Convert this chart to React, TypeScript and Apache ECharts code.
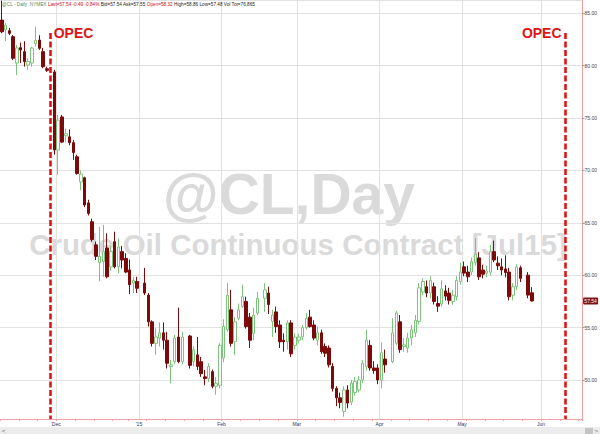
import React, { useEffect, useRef } from 'react';
import * as echarts from 'echarts';

// ---- categories: weekday slots (the chart keeps empty slots for most holidays) ----
const START_DATE = '2014-11-10';
const END_DATE = '2015-06-15';
const NO_SLOT = ['2014-12-25'];

function weekdays(start: string, end: string, skip: string[]): string[] {
  const out: string[] = [];
  const d = new Date(start + 'T00:00:00Z');
  const e = new Date(end + 'T00:00:00Z');
  while (d <= e) {
    const wd = d.getUTCDay();
    const s = d.toISOString().slice(0, 10);
    if (wd !== 0 && wd !== 6 && skip.indexOf(s) < 0) out.push(s);
    d.setUTCDate(d.getUTCDate() + 1);
  }
  return out;
}
const categories = weekdays(START_DATE, END_DATE, NO_SLOT);

const MONTH_LABELS: Record<string, string> = {
  '12': 'Dec', '01': "'15", '02': 'Feb', '03': 'Mar', '04': 'Apr', '05': 'May', '06': 'Jun',
};

// ---- OHLC rows: [open, close, low, high]; null = holiday slot ----
type Row = number[] | null;
const nov: Row[] = [
  [84.35, 83.23, 83.1, 86.2],
  [83.4, 83.87, 82.35, 84.07],
  [83.33, 83.08, 82.92, 83.59],
  [82.76, 80.7, 80.53, 82.92],
  [80.25, 81.68, 79.1, 81.97],
  [81.71, 81.49, 80.25, 82.2],
  [81.33, 80.37, 79.9, 82.33],
  [80.06, 80.38, 79.6, 80.7],
  [80.25, 81.68, 79.9, 81.8],
  [82.1, 82.4, 81.8, 83.7],
  [82.44, 81.65, 81.5, 82.9],
  [81.33, 79.9, 79.75, 81.7],
  [79.7, 79.55, 79.4, 79.9],
  null,
  [79.4, 71.95, 71.5, 79.6],
];
const dec: Row[] = [
  [71.95, 74.8, 69.6, 75.3],
  [75.1, 72.7, 72.6, 75.3],
  [73.3, 73.5, 72.7, 74.0],
  [73.2, 72.65, 72.4, 73.9],
  [72.65, 71.7, 71.0, 72.9],
  [71.3, 69.7, 69.6, 71.5],
  [68.9, 69.65, 68.1, 70.0],
  [69.3, 66.7, 66.5, 69.4],
  [66.9, 65.9, 65.7, 67.2],
  [65.1, 63.4, 63.2, 65.4],
  [62.9, 61.8, 61.45, 63.2],
  [61.2, 61.8, 59.4, 64.6],
  [61.3, 62.25, 59.85, 64.8],
  [62.6, 59.85, 59.7, 64.0],
  [60.8, 62.25, 60.4, 62.8],
  [63.2, 60.8, 60.65, 64.15],
  [60.8, 62.7, 60.2, 63.5],
  [62.25, 61.45, 60.65, 62.8],
  [61.6, 60.3, 60.2, 62.1],
  [60.5, 59.1, 58.2, 61.5],
  [59.25, 59.5, 58.3, 59.85],
  [59.4, 58.75, 58.3, 59.85],
];
const jan: Row[] = [
  null,
  [59.25, 58.3, 58.1, 60.7],
  [58.1, 55.55, 55.1, 58.3],
  [55.55, 53.5, 53.2, 55.7],
  [53.5, 54.1, 52.4, 54.95],
  [54.0, 54.5, 53.2, 55.5],
  [54.5, 53.8, 52.9, 55.5],
  [53.8, 51.6, 51.1, 54.6],
  [51.3, 51.45, 49.7, 51.9],
  [51.75, 54.0, 51.5, 54.3],
  [54.1, 51.75, 51.6, 56.9],
  [51.75, 54.1, 51.5, 54.6],
  null,
  [54.2, 51.4, 51.1, 54.3],
  [51.75, 52.9, 51.3, 53.2],
  [52.4, 51.3, 50.95, 54.1],
  [51.75, 50.6, 50.3, 52.2],
  [50.3, 50.15, 49.5, 50.95],
  [50.15, 51.3, 49.8, 51.6],
  [50.8, 49.4, 49.2, 51.0],
  [49.4, 49.7, 48.6, 50.3],
  [49.5, 53.3, 49.2, 53.5],
];
const feb: Row[] = [
  [52.1, 55.1, 51.7, 55.8],
  [54.8, 58.1, 54.6, 59.25],
  [56.7, 53.5, 53.2, 58.6],
  [53.65, 55.55, 52.4, 56.0],
  [55.9, 56.7, 55.7, 57.3],
  [57.0, 57.95, 56.9, 59.1],
  [57.5, 55.1, 54.9, 57.95],
  [56.0, 53.8, 53.05, 56.4],
  [54.45, 56.2, 53.8, 56.9],
  [56.4, 57.8, 56.2, 58.4],
  null,
  [57.8, 58.6, 56.5, 59.25],
  [58.3, 57.2, 56.3, 58.9],
  [55.6, 56.2, 54.1, 56.7],
  [56.5, 55.1, 54.5, 57.0],
  [55.25, 53.65, 53.05, 55.7],
  [53.8, 53.65, 52.7, 54.45],
  [53.65, 55.45, 52.9, 55.7],
  [55.45, 52.5, 52.2, 55.7],
  [53.3, 54.1, 52.9, 54.45],
];
const mar: Row[] = [
  [53.8, 54.1, 53.5, 54.4],
  [54.1, 55.0, 53.8, 55.25],
  [55.0, 55.9, 54.8, 56.4],
  [56.0, 55.1, 55.0, 56.7],
  [55.25, 54.0, 53.8, 55.7],
  [53.8, 54.5, 53.3, 55.1],
  [54.5, 52.7, 52.5, 54.8],
  [53.2, 52.55, 52.2, 53.5],
  [53.05, 51.45, 51.2, 53.3],
  [51.3, 49.2, 48.9, 51.6],
  [49.2, 48.3, 47.5, 49.4],
  [48.3, 47.85, 47.3, 48.8],
  [47.0, 49.05, 46.5, 49.4],
  [49.05, 47.8, 47.3, 49.5],
  [47.9, 49.7, 47.6, 50.0],
  [48.8, 49.85, 48.5, 50.3],
  [49.05, 50.0, 48.8, 50.4],
  [50.0, 51.6, 49.7, 51.9],
  [51.3, 53.8, 50.9, 54.8],
  [53.3, 51.15, 50.9, 53.8],
  [51.15, 50.9, 50.6, 51.8],
  [51.15, 50.0, 49.6, 51.5],
];
const apr: Row[] = [
  [50.0, 52.6, 49.2, 53.6],
  [52.0, 51.45, 50.7, 52.9],
  null,
  [51.75, 54.5, 51.6, 55.9],
  [53.5, 56.4, 53.3, 56.6],
  [55.55, 52.9, 52.6, 56.2],
  [53.2, 53.35, 52.7, 54.0],
  [53.05, 54.0, 52.6, 54.5],
  [54.0, 54.8, 53.3, 55.25],
  [54.5, 55.7, 54.1, 56.2],
  [55.6, 58.8, 55.3, 59.25],
  [58.4, 59.4, 58.1, 59.7],
  [58.9, 58.3, 57.9, 59.5],
  [58.3, 59.5, 57.8, 59.9],
  [58.9, 57.5, 57.2, 59.3],
  [57.3, 57.05, 56.5, 58.0],
  [57.25, 58.7, 57.0, 59.5],
  [58.5, 58.0, 57.6, 59.05],
  [58.3, 57.6, 57.2, 58.8],
  [57.5, 58.1, 57.2, 58.6],
  [57.95, 59.5, 57.6, 59.9],
  [59.4, 60.3, 59.1, 61.2],
];
const may: Row[] = [
  [60.8, 60.2, 59.9, 61.3],
  [60.3, 59.85, 59.35, 60.9],
  [60.3, 61.3, 60.0, 61.7],
  [61.2, 62.0, 60.9, 63.55],
  [61.65, 59.85, 59.55, 62.2],
  [60.5, 60.1, 59.7, 61.0],
  [60.2, 60.4, 59.8, 60.9],
  [60.3, 62.25, 60.0, 62.9],
  [62.25, 61.45, 61.25, 63.3],
  [61.15, 60.9, 60.5, 61.8],
  [60.8, 60.5, 60.0, 61.6],
  [60.6, 60.25, 59.8, 61.9],
  [60.3, 57.95, 57.6, 60.7],
  [58.1, 58.9, 57.6, 59.25],
  [58.9, 60.8, 58.6, 61.05],
  [60.7, 59.7, 59.35, 60.9],
  null,
  [60.0, 58.1, 57.8, 60.3],
  [58.32, 57.54, 57.48, 58.86],
];

const LAST_PRICE = 57.54;
const OPEC_DATES = ['2014-11-27', '2015-06-09'];
const OPEC_LINE_TOP = 83.1;
const Y_MIN = 46.28;
const Y_MAX = 86.26;

const HEADER =
  '{g|@CL - Daily  NYMEX} {r|Last=57.54 -0.49 -0.84%} {k|Bid=57.54 Ask=57.55} {r|Open=58.32} {k|High=58.86 Low=57.48 Vol Tot=76,865}';
const WATERMARK_1 = '@CL,Day';
const WATERMARK_2 = 'Crude Oil Continuous Contract [Jul15]';

const FONT = '"Liberation Sans", Arial, Helvetica, sans-serif';

export default function App() {
  const ref = useRef<HTMLDivElement>(null);
  useEffect(() => {
    if (!ref.current) return;
    const chart = echarts.init(ref.current, undefined, { renderer: 'svg' });
    const rows = ([] as Row[]).concat(nov, dec, jan, feb, mar, apr, may);
    const ohlc = rows.map((r) => (r ? r : ['-', '-', '-', '-']));

    const monthFirst = new Set<number>();
    categories.forEach((c, i) => {
      const m = c.slice(5, 7);
      if (i > 0 && categories[i - 1].slice(5, 7) !== m && MONTH_LABELS[m]) monthFirst.add(i);
    });
    const isMonday = (v: string) => new Date(v + 'T00:00:00Z').getUTCDay() === 1;

    const opecStyle = { color: '#e01414', width: 2.6, type: [6, 2.5] as any };

    chart.setOption({
      animation: false,
      backgroundColor: '#ffffff',
      textStyle: { fontFamily: FONT },
      grid: { left: 0, right: 16.4, top: 0, bottom: 15, containLabel: false },
      xAxis: {
        type: 'category',
        data: categories,
        boundaryGap: true,
        axisLine: { show: true, lineStyle: { color: '#f0a0a0', width: 1 } },
        axisTick: {
          show: true,
          length: 2,
          interval: (i: number, v: string) => isMonday(v),
          lineStyle: { color: '#f0a0a0' },
        },
        axisLabel: {
          interval: (i: number) => monthFirst.has(i),
          formatter: (v: string) => MONTH_LABELS[v.slice(5, 7)] || '',
          fontSize: 5,
          color: '#333366',
          margin: 2,
          padding: [0, 4, 0, 0],
          fontFamily: FONT,
        },
        splitLine: {
          show: true,
          interval: (i: number) => monthFirst.has(i),
          lineStyle: { color: '#e2e2e2', width: 1 },
        },
      },
      yAxis: {
        type: 'value',
        position: 'right',
        min: Y_MIN,
        max: Y_MAX,
        splitNumber: 8,
        axisLine: { show: true, lineStyle: { color: '#f0a0a0', width: 1 } },
        axisTick: { show: true, length: 2, lineStyle: { color: '#999999' } },
        axisLabel: {
          fontSize: 5,
          color: '#444444',
          margin: 2,
          showMinLabel: false,
          showMaxLabel: false,
          formatter: (v: number) => v.toFixed(2),
          fontFamily: FONT,
        },
        splitLine: { show: true, lineStyle: { color: '#e2e2e2', width: 1 } },
      },
      series: [
        {
          type: 'candlestick',
          data: ohlc,
          barWidth: 3,
          itemStyle: {
            color: '#ffffff',
            color0: '#7c0a0a',
            borderColor: '#7cc47c',
            borderColor0: '#7c0a0a',
            borderWidth: 1,
          },
          markLine: {
            silent: true,
            symbol: ['none', 'none'],
            animation: false,
            label: { show: false },
            data: [
              [
                { coord: [OPEC_DATES[0], OPEC_LINE_TOP], lineStyle: opecStyle },
                { coord: [OPEC_DATES[0], Y_MIN] },
              ],
              [
                { coord: [OPEC_DATES[1], OPEC_LINE_TOP], lineStyle: opecStyle },
                { coord: [OPEC_DATES[1], Y_MIN] },
              ],
            ],
          },
        },
      ],
    });

    const xL = chart.convertToPixel({ xAxisIndex: 0 }, OPEC_DATES[0]) as number;
    const xR = chart.convertToPixel({ xAxisIndex: 0 }, OPEC_DATES[1]) as number;
    const yLast = chart.convertToPixel({ yAxisIndex: 0 }, LAST_PRICE) as number;
    const axisX = chart.convertToPixel({ xAxisIndex: 0 }, categories[categories.length - 1]) as number;
    const tagX = axisX + 2.5;

    chart.setOption({
      graphic: [
        {
          type: 'text', z: -5, silent: true,
          x: 289, y: 194,
          style: {
            text: WATERMARK_1, fill: '#dadada', font: `bold 57px ${FONT}`,
            align: 'center', verticalAlign: 'middle',
          },
        },
        {
          type: 'text', z: -5, silent: true,
          x: 298, y: 244,
          style: {
            text: WATERMARK_2, fill: '#dadada', font: `bold 29.5px ${FONT}`,
            align: 'center', verticalAlign: 'middle',
          },
        },
        {
          type: 'text', z: 100, silent: true,
          x: xL + 3, y: 26,
          style: { text: 'OPEC', fill: '#e01414', font: `bold 14px ${FONT}`, align: 'left', verticalAlign: 'top' },
        },
        {
          type: 'text', z: 100, silent: true,
          x: xR - 4, y: 26,
          style: { text: 'OPEC', fill: '#e01414', font: `bold 14px ${FONT}`, align: 'right', verticalAlign: 'top' },
        },
        {
          type: 'text', z: 100, silent: true,
          x: 2, y: 1.5,
          style: {
            text: HEADER,
            font: `4.7px ${FONT}`,
            verticalAlign: 'top',
            rich: {
              g: { fill: '#5a8a5a', fontSize: 4.7, fontFamily: FONT },
              r: { fill: '#d01010', fontSize: 4.7, fontFamily: FONT },
              k: { fill: '#222222', fontSize: 4.7, fontFamily: FONT },
            },
          },
        },
        {
          type: 'rect', z: 100, silent: true,
          shape: { x: tagX, y: yLast - 3.5, width: 15, height: 7, r: 1 },
          style: { fill: '#7c1414' },
        },
        {
          type: 'text', z: 101, silent: true,
          x: tagX + 7.5, y: yLast,
          style: {
            text: LAST_PRICE.toFixed(2), fill: '#ffffff', font: `5px ${FONT}`,
            align: 'center', verticalAlign: 'middle',
          },
        },
        {
          type: 'rect', z: 100, silent: true,
          shape: { x: 0, y: 427, width: 600, height: 7 },
          style: { fill: '#ececec' },
        },
        {
          type: 'rect', z: 101, silent: true,
          shape: { x: 585, y: 428, width: 8, height: 6 },
          style: { fill: '#c4c4c4' },
        },
        {
          type: 'text', z: 101, silent: true, x: 2, y: 430.5,
          style: { text: '<', font: `6px ${FONT}`, fill: '#666', verticalAlign: 'middle' },
        },
        {
          type: 'text', z: 101, silent: true, x: 598, y: 430.5,
          style: { text: '>', font: `6px ${FONT}`, fill: '#666', align: 'right', verticalAlign: 'middle' },
        },
      ],
    });

    return () => chart.dispose();
  }, []);
  return <div ref={ref} style={{ position: 'absolute', left: 0, top: 0, width: 600, height: 434 }} />;
}
